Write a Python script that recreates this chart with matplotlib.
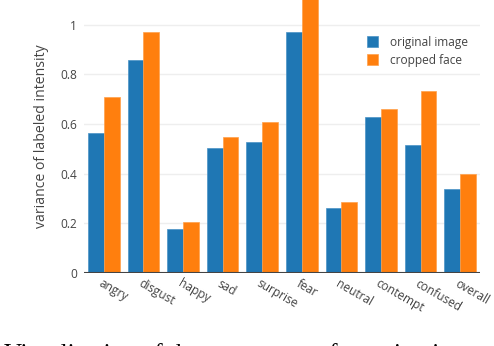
import numpy as np
import matplotlib
matplotlib.use('Agg')
import matplotlib.pyplot as plt

# data
emotions = ['angry', 'disgust', 'happy', 'sad', 'surprise', 'fear',
            'neutral', 'contempt', 'confused', 'overall']
original_image = [0.565, 0.858, 0.176, 0.503, 0.529, 0.971,
                  0.261, 0.628, 0.517, 0.339]
cropped_face = [0.710, 0.971, 0.207, 0.547, 0.610, 1.15,
                0.285, 0.660, 0.733, 0.400]
series_names = ['original image', 'cropped face']

plt.rcParams['font.family'] = ['Open Sans', 'DejaVu Sans']
FS = 8.6
TXT = '#444444'

fig = plt.figure(figsize=(4.94, 3.46), dpi=100)
ax = fig.add_axes([84/494, 73/346, 396/494, 273/346])

x = np.arange(len(emotions))
w = 0.4
ax.bar(x - w/2, original_image, w, color='#1f77b4', edgecolor='#4a92c6',
       linewidth=0.5, label=series_names[0], zorder=3)
ax.bar(x + w/2, cropped_face, w, color='#ff7f0e', edgecolor='#ffa04a',
       linewidth=0.5, label=series_names[1], zorder=3)

ax.set_xlim(-0.5, len(emotions) - 0.5)
ax.set_ylim(0, 1.10)
ax.set_yticks([0, 0.2, 0.4, 0.6, 0.8, 1.0])
ax.set_yticklabels(['0', '0.2', '0.4', '0.6', '0.8', '1'])
ax.grid(axis='y', color='#eeeeee', linewidth=1, zorder=0)
ax.axhline(0, color='#444444', linewidth=1.5, zorder=4)
for s in ax.spines.values():
    s.set_visible(False)
ax.tick_params(axis='both', length=0, labelsize=FS, labelcolor=TXT)
ax.tick_params(axis='y', pad=5)

# rotated category labels, anchored just left of the category centre
ax.set_xticks(x)
ax.set_xticklabels(emotions, rotation=-30, ha='left', va='top',
                   rotation_mode='anchor')
ax.tick_params(axis='x', pad=3)
import matplotlib.transforms as mtrans
offset = mtrans.ScaledTranslation(-1/100, 0, fig.dpi_scale_trans)
for lab in ax.get_xticklabels():
    lab.set_transform(lab.get_transform() + offset)

ax.set_ylabel('variance of labeled intensity', fontsize=10.1, color=TXT)
ax.yaxis.set_label_coords(-0.089, 0.5)

leg = ax.legend(loc='upper left', bbox_to_anchor=(357/494, 1 - 26/346),
                bbox_transform=fig.transFigure, frameon=False, fontsize=FS,
                handlelength=0.95, handleheight=1.0, handletextpad=1.0,
                labelspacing=0.45, borderpad=0.3)
for t in leg.get_texts():
    t.set_color(TXT)

# caption of the paper figure, cut off at the bottom
fig.text(0.008, 1 - 343/346, 'Visualization of the agreement of emotion intensities',
         family=['Liberation Serif', 'DejaVu Serif'], fontsize=18, va='top',
         ha='left', color='black')

fig.savefig('out.png', dpi=100)
